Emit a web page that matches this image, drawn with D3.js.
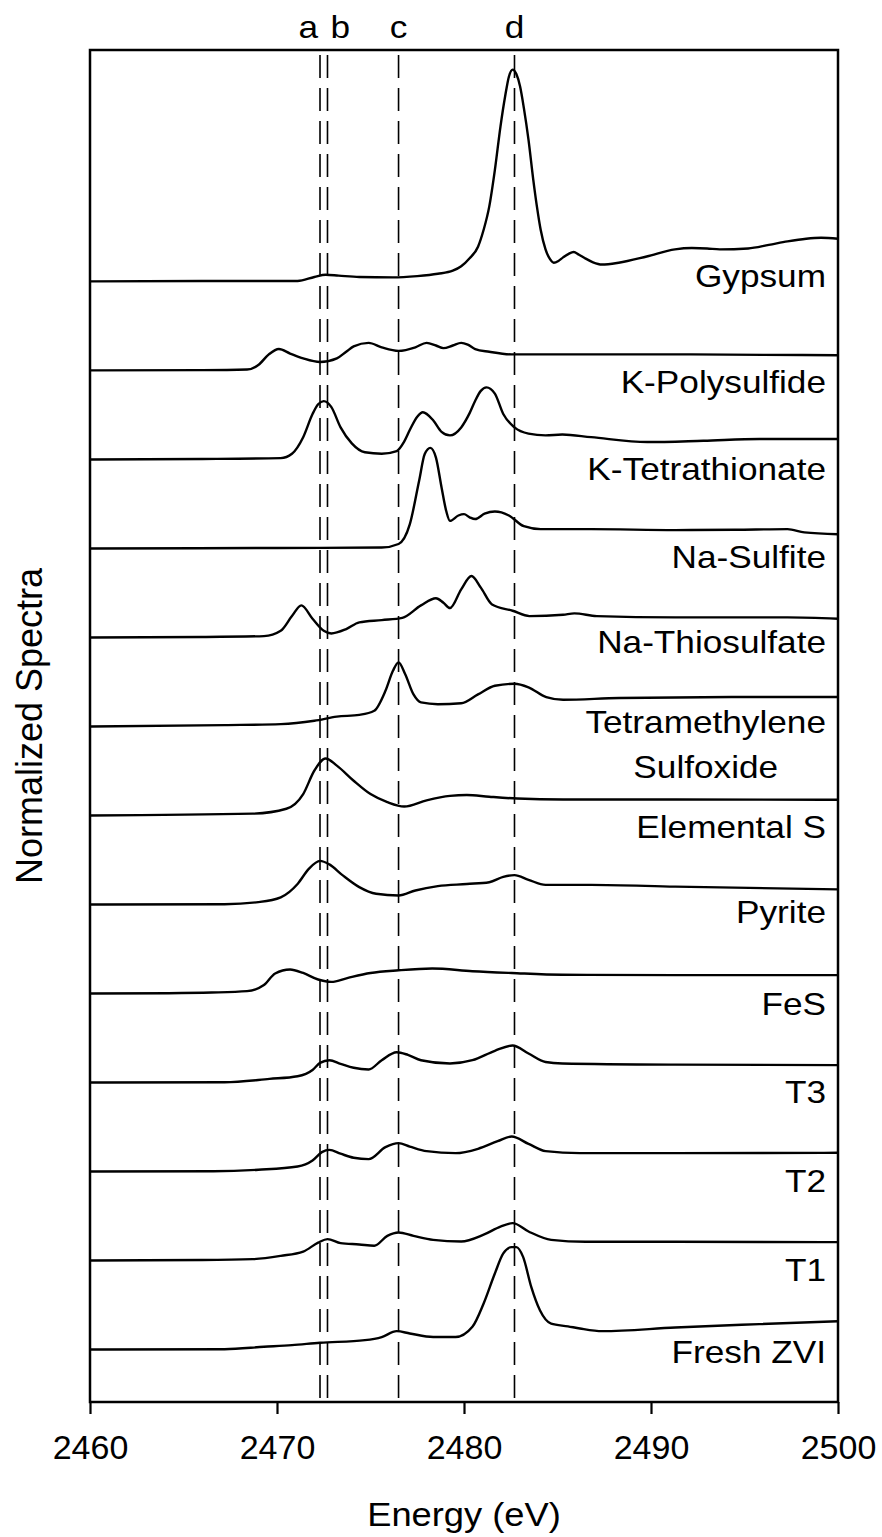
<!DOCTYPE html>
<html>
<head>
<meta charset="utf-8">
<script src="https://cdn.jsdelivr.net/npm/d3@7"></script>
<style>
  html, body { margin: 0; padding: 0; background: #fff; }
  svg { display: block; }
  text { font-family: "Liberation Sans", Arial, sans-serif; fill: #000; }
</style>
</head>
<body>
<svg id="chart" width="882" height="1537"></svg>
<script>
// S K-edge XANES spectra, stacked; each series is [energy (eV), normalized intensity above its own baseline]
const seriesNames = ["Gypsum", "K-Polysulfide", "K-Tetrathionate", "Na-Sulfite", "Na-Thiosulfate",
  "Tetramethylene\nSulfoxide", "Elemental S", "Pyrite", "FeS", "T3", "T2", "T1", "Fresh ZVI"];

// vertical stacking offset of each spectrum (normalized units)
const stackOffsets = [12, 11, 10, 9, 8, 7, 6, 5, 4, 3, 2, 1, 0];

const gypsum = [[2460,0],[2466,0.005],[2471.1,0.005],[2472.0,0.05],[2472.6,0.075],[2473.3,0.065],[2474.4,0.05],
  [2476.2,0.045],[2477.5,0.06],[2478.6,0.086],[2479.4,0.12],[2479.85,0.17],[2480.3,0.26],[2480.75,0.39],
  [2481.05,0.58],[2481.35,0.84],[2481.65,1.25],[2481.95,1.74],[2482.2,2.08],[2482.4,2.30],[2482.6,2.38],
  [2482.8,2.33],[2483.0,2.19],[2483.2,1.95],[2483.45,1.59],[2483.7,1.15],[2483.9,0.84],[2484.1,0.58],
  [2484.36,0.36],[2484.6,0.25],[2484.8,0.21],[2485.05,0.23],[2485.3,0.27],[2485.6,0.31],[2485.86,0.33],
  [2486.15,0.30],[2486.47,0.26],[2486.9,0.215],[2487.37,0.19],[2488.27,0.21],[2489.77,0.28],[2491.28,0.36],
  [2492.18,0.375],[2493.0,0.37],[2493.68,0.36],[2495.19,0.37],[2496.3,0.41],[2497.3,0.45],[2498.3,0.48],
  [2499.1,0.49],[2500,0.48]];

const kPolysulfide = [[2460,0],[2466,0.003],[2468.4,0.01],[2469.0,0.06],[2469.56,0.18],[2470.1,0.24],
  [2470.7,0.19],[2471.4,0.135],[2472.3,0.094],[2473.2,0.135],[2473.7,0.21],[2474.1,0.27],[2474.9,0.31],
  [2475.6,0.26],[2476.5,0.22],[2477.4,0.26],[2478.0,0.31],[2478.5,0.28],[2478.9,0.25],[2479.4,0.28],
  [2479.85,0.31],[2480.2,0.29],[2480.6,0.24],[2481.35,0.21],[2482.55,0.18],[2485.26,0.18],[2491.3,0.18],
  [2496,0.175],[2500,0.17]];

const kTetrathionate = [[2460,0],[2466,0.005],[2470.2,0.015],[2470.8,0.064],[2471.4,0.25],[2471.9,0.51],
  [2472.2,0.62],[2472.5,0.655],[2472.9,0.59],[2473.4,0.36],[2474.0,0.18],[2474.7,0.08],[2475.6,0.064],
  [2476.4,0.094],[2476.8,0.2],[2477.1,0.33],[2477.5,0.48],[2477.8,0.53],[2478.35,0.44],[2478.8,0.31],
  [2479.25,0.27],[2479.85,0.36],[2480.3,0.52],[2480.6,0.66],[2480.9,0.77],[2481.2,0.81],[2481.65,0.74],
  [2482.1,0.51],[2482.7,0.36],[2483.45,0.29],[2484.36,0.27],[2485.26,0.28],[2486.8,0.25],[2489.8,0.195],
  [2492.8,0.21],[2495.8,0.23],[2500,0.23]];

const naSulfite = [[2460,0],[2470,0.005],[2475.6,0.01],[2476.5,0.05],[2477.1,0.27],[2477.6,0.76],
  [2477.9,1.06],[2478.2,1.13],[2478.5,1.02],[2478.8,0.685],[2479.05,0.42],[2479.25,0.31],[2479.7,0.37],
  [2480.0,0.385],[2480.3,0.35],[2480.6,0.33],[2481.1,0.39],[2481.65,0.415],[2482.0,0.405],[2482.4,0.37],
  [2483.2,0.25],[2484.1,0.217],[2486.8,0.217],[2491.3,0.206],[2494.5,0.21],[2497.3,0.217],[2498.2,0.18],
  [2500,0.16]];

const naThiosulfate = [[2460,0],[2466,0.005],[2469.3,0.015],[2470.2,0.075],[2470.8,0.24],[2471.3,0.36],
  [2471.9,0.21],[2472.5,0.075],[2472.9,0.045],[2473.7,0.094],[2474.4,0.17],[2475.6,0.195],[2476.7,0.22],
  [2477.7,0.36],[2478.5,0.44],[2478.9,0.39],[2479.25,0.33],[2479.85,0.54],[2480.4,0.69],[2480.9,0.56],
  [2481.5,0.37],[2482.6,0.30],[2483.5,0.24],[2485.3,0.255],[2485.9,0.27],[2487.1,0.24],[2491.3,0.225],
  [2497.3,0.225],[2500,0.21]];

const tmSulfoxide = [[2460,0],[2467.2,0.015],[2470.2,0.026],[2472.0,0.064],[2473.2,0.11],[2474.4,0.13],
  [2475.2,0.176],[2475.8,0.40],[2476.2,0.625],[2476.5,0.72],[2476.85,0.59],[2477.3,0.36],[2477.7,0.27],
  [2478.6,0.25],[2479.85,0.26],[2480.75,0.36],[2481.65,0.457],[2482.7,0.48],[2483.45,0.44],[2484.4,0.33],
  [2485.3,0.30],[2488.3,0.32],[2494.3,0.33],[2500,0.33]];

const elementalS = [[2460,0],[2468.7,0.02],[2470.5,0.075],[2471.4,0.24],[2472.0,0.505],[2472.6,0.64],
  [2473.2,0.56],[2474.1,0.39],[2475.0,0.24],[2475.9,0.15],[2476.8,0.10],[2478.0,0.17],[2479.25,0.22],
  [2480.15,0.23],[2481.35,0.21],[2482.85,0.19],[2485.3,0.18],[2491.3,0.18],[2500,0.176]];

const pyrite = [[2460,0],[2467.2,0.003],[2469.0,0.026],[2470.2,0.08],[2471.1,0.23],[2471.7,0.40],
  [2472.3,0.49],[2472.8,0.45],[2473.5,0.33],[2474.4,0.195],[2475.3,0.12],[2476.5,0.10],[2477.4,0.157],
  [2478.6,0.206],[2480.15,0.23],[2481.35,0.25],[2482.1,0.31],[2482.7,0.33],[2483.45,0.277],[2484.36,0.22],
  [2486.8,0.22],[2491.3,0.20],[2500,0.17]];

const feS = [[2460,0],[2464.2,0.003],[2466.5,0.01],[2468.4,0.026],[2469.3,0.094],[2469.9,0.225],
  [2470.7,0.27],[2471.4,0.23],[2472.2,0.157],[2472.9,0.13],[2473.8,0.176],[2475.0,0.23],[2476.5,0.26],
  [2478.3,0.28],[2480.45,0.25],[2482.55,0.23],[2485.26,0.21],[2491.3,0.206],[2500,0.206]];

const t3 = [[2460,0],[2467.2,0.003],[2469.6,0.04],[2471.1,0.07],[2471.9,0.14],[2472.3,0.22],[2472.8,0.25],
  [2473.4,0.21],[2474.1,0.165],[2474.9,0.146],[2475.6,0.25],[2476.4,0.34],[2477.0,0.31],[2477.7,0.25],
  [2479.25,0.213],[2480.45,0.25],[2481.65,0.356],[2482.6,0.416],[2483.45,0.326],[2484.36,0.23],
  [2485.26,0.213],[2491.3,0.20],[2500,0.195]];

const t2 = [[2460,0],[2466.6,0.003],[2469.0,0.02],[2471.1,0.056],[2471.9,0.124],[2472.4,0.217],
  [2472.8,0.243],[2473.4,0.20],[2474.1,0.154],[2474.9,0.139],[2475.8,0.273],[2476.5,0.318],[2477.1,0.28],
  [2478.0,0.228],[2479.55,0.206],[2480.75,0.255],[2481.8,0.34],[2482.55,0.393],[2483.45,0.31],
  [2484.36,0.228],[2486.2,0.206],[2491.3,0.206],[2500,0.21]];

const t1 = [[2460,0],[2466,0.005],[2468.7,0.015],[2470.2,0.052],[2471.4,0.10],[2472.2,0.20],[2472.7,0.24],
  [2473.4,0.195],[2474.4,0.18],[2475.2,0.165],[2475.9,0.277],[2476.5,0.315],[2477.3,0.277],[2478.35,0.232],
  [2479.85,0.213],[2481.05,0.29],[2481.95,0.38],[2482.6,0.42],[2483.45,0.326],[2484.66,0.232],
  [2486.5,0.21],[2491.3,0.21],[2500,0.206]];

const freshZVI = [[2460,0],[2467.2,0.003],[2469.3,0.03],[2470.8,0.049],[2472.3,0.075],[2474.7,0.105],
  [2475.6,0.14],[2476.4,0.206],[2477.1,0.18],[2478.35,0.14],[2479.55,0.14],[2480.45,0.255],[2481.05,0.517],
  [2481.65,0.854],[2482.1,1.08],[2482.55,1.15],[2482.8,1.15],[2483.16,1.04],[2483.6,0.70],[2484.06,0.44],
  [2484.66,0.29],[2485.56,0.26],[2486.2,0.236],[2487.4,0.206],[2491.3,0.247],[2495.8,0.285],[2500,0.318]];

const spectra = [gypsum, kPolysulfide, kTetrathionate, naSulfite, naThiosulfate, tmSulfoxide,
  elementalS, pyrite, feS, t3, t2, t1, freshZVI];

// reference energies marked with dashed lines
const markerNames = ["a", "b", "c", "d"];
const markerEnergies = [2472.3, 2472.7, 2476.5, 2482.7];

const xTicks = [2460, 2470, 2480, 2490, 2500];
const xTitle = "Energy (eV)";
const yTitle = "Normalized Spectra";

// label placement below each trace (px from the trace baseline)
const labelShift = [6, 23, 21, 20, 16, 7, 23, 19, 22, 21, 21, 21, 14];

const svg = d3.select("#chart");
const plotLeft = 90, plotRight = 838, plotTop = 50, plotBottom = 1402;
const stretch = 1.1;   // horizontal widening of the label glyphs

const x = d3.scaleLinear().domain([2460, 2500]).range([plotLeft, plotRight]);
const y = d3.scaleLinear().domain([-0.59, 14.6]).range([plotBottom, plotTop]);

// dashed marker lines
svg.append("g").selectAll("line").data(markerEnergies).join("line")
  .attr("x1", d => x(d)).attr("x2", d => x(d))
  .attr("y1", plotTop).attr("y2", plotBottom)
  .attr("stroke", "#000").attr("stroke-width", 1.6)
  .attr("stroke-dasharray", "23,10")
  .attr("stroke-dashoffset", -5);

// marker letters above the frame
svg.append("g").selectAll("text").data(markerNames).join("text")
  .attr("transform", (d, i) => {
    const xm = i === 0 ? x(markerEnergies[i]) - 2 : i === 1 ? x(markerEnergies[i]) + 3 : x(markerEnergies[i]);
    return `translate(${xm},38) scale(${stretch},1)`;
  })
  .attr("text-anchor", (d, i) => i === 0 ? "end" : i === 1 ? "start" : "middle")
  .attr("font-size", 32)
  .text(d => d);

// spectra
const line = d3.line()
  .x(d => x(d[0]))
  .curve(d3.curveMonotoneX);

svg.append("g").selectAll("path").data(spectra).join("path")
  .attr("d", (s, i) => line.y(d => y(d[1] + stackOffsets[i]))(s))
  .attr("fill", "none")
  .attr("stroke", "#000")
  .attr("stroke-width", 2.4)
  .attr("stroke-linejoin", "round");

// series labels, right-aligned inside the frame
const labelRight = 826;
const labels = svg.append("g").attr("font-size", 32);
seriesNames.forEach((name, i) => {
  const yb = y(stackOffsets[i]) + labelShift[i];
  const parts = name.split("\n");
  const t = labels.append("text")
    .attr("transform", `translate(${labelRight},${yb}) scale(${stretch},1)`)
    .attr("text-anchor", "end").text(parts[0]);
  if (parts.length > 1) {
    const w = t.node().getComputedTextLength() * stretch;
    labels.append("text")
      .attr("transform", `translate(${labelRight - w / 2},${yb + 45}) scale(${stretch},1)`)
      .attr("text-anchor", "middle").text(parts[1]);
  }
});

// x axis (ticks point outward)
const xAxis = d3.axisBottom(x).tickValues(xTicks).tickSize(12).tickPadding(21).tickFormat(d3.format("d"));
const gx = svg.append("g").attr("transform", `translate(0,${plotBottom})`).call(xAxis);
gx.select(".domain").remove();
gx.selectAll(".tick line").attr("stroke", "#000").attr("stroke-width", 2.2);
gx.selectAll(".tick text").attr("font-size", 34).attr("font-family", "Liberation Sans, Arial, sans-serif")
  .attr("fill", "#000").attr("dy", "0.71em");

// frame
svg.append("rect")
  .attr("x", plotLeft).attr("y", plotTop)
  .attr("width", plotRight - plotLeft).attr("height", plotBottom - plotTop)
  .attr("fill", "none").attr("stroke", "#000").attr("stroke-width", 2.5);

// axis titles
svg.append("text")
  .attr("transform", `translate(${(plotLeft + plotRight) / 2},1526) scale(${stretch},1)`)
  .attr("text-anchor", "middle").attr("font-size", 33).text(xTitle);

svg.append("text")
  .attr("transform", `translate(42,${(plotTop + plotBottom) / 2}) rotate(-90)`)
  .attr("text-anchor", "middle").attr("font-size", 36).text(yTitle);
</script>
</body>
</html>
